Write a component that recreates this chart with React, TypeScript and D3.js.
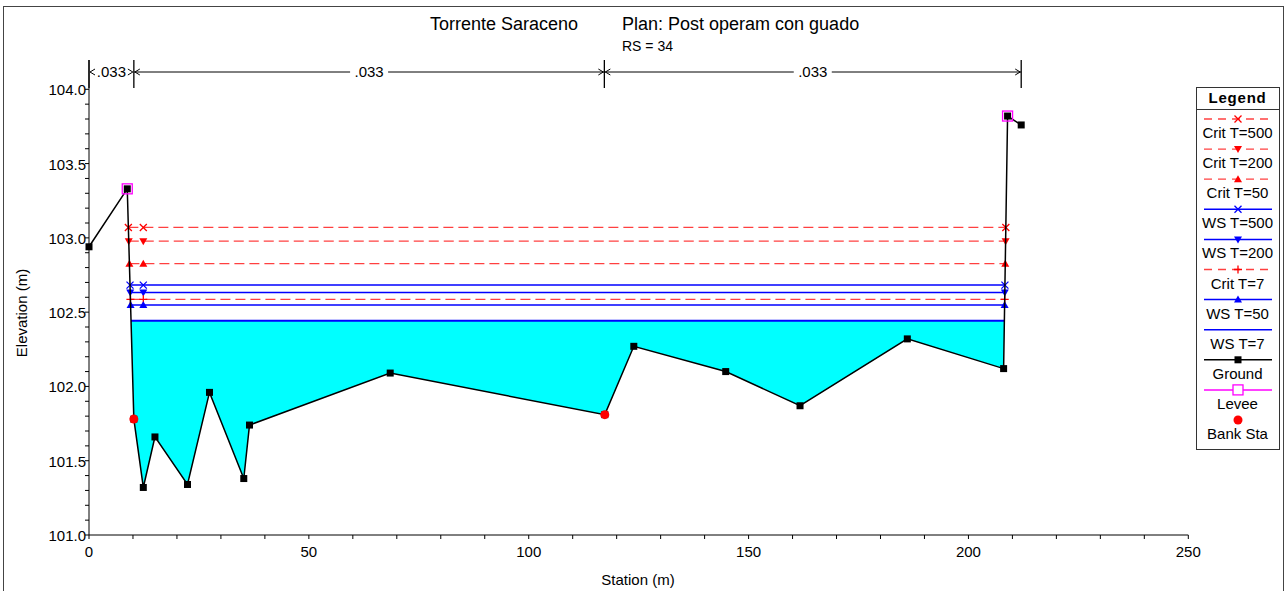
import React from "react";
import * as d3 from "d3";

// ---------------- data ----------------
const groundSta = [0, 8.7, 10.2, 12.35, 15.0, 22.4, 27.4, 35.2, 36.5, 68.5, 117.3, 123.9, 144.8, 161.7, 186.1, 208.0, 208.9, 212.0];
const groundElev = [102.94, 103.33, 101.78, 101.32, 101.66, 101.34, 101.96, 101.38, 101.74, 102.09, 101.81, 102.27, 102.1, 101.87, 102.32, 102.12, 103.82, 103.76];

const leveeSta = [8.7, 208.9];
const leveeElev = [103.33, 103.82];

const bankSta = [10.2, 117.3];
const bankElev = [101.78, 101.81];

const profileNames = ["Crit T=500", "Crit T=200", "Crit T=50", "WS T=500", "WS T=200", "Crit T=7", "WS T=50", "WS T=7"];
const profileElev = [103.07, 102.978, 102.826, 102.682, 102.633, 102.586, 102.548, 102.442];
const profileKind = ["crit", "crit", "crit", "ws", "ws", "crit", "ws", "ws"];
const profileMarker = ["x", "down", "up", "x", "down", "plus", "up", "none"];
const innerMarkerSta = [12.35];

const nBreakSta = [0, 10.2, 117.2, 212.0];
const nValues = [".033", ".033", ".033"];

const xTicks = [0, 50, 100, 150, 200, 250];
const yTicks = [101.0, 101.5, 102.0, 102.5, 103.0, 103.5, 104.0];

const legendNames = [...profileNames, "Ground", "Levee", "Bank Sta"];

// ---------------- helpers ----------------
const FONT = "Liberation Sans, Arial, Helvetica, sans-serif";
const RED = "#ff0000";
const BLUE = "#0000ff";
const MAG = "#ff00ff";

const x = d3.scaleLinear().domain([0, 250]).range([89, 1188.3]);
const y = d3.scaleLinear().domain([101, 104]).range([535, 89.3]);

function leftCrossing(level: number) {
  for (let i = 0; i < groundSta.length - 1; i++) {
    const a = groundElev[i], b = groundElev[i + 1];
    if (a >= level && b < level) {
      const t = (a - level) / (a - b);
      return groundSta[i] + t * (groundSta[i + 1] - groundSta[i]);
    }
  }
  return groundSta[0];
}
function rightCrossing(level: number) {
  for (let i = groundSta.length - 2; i >= 0; i--) {
    const a = groundElev[i], b = groundElev[i + 1];
    if (a < level && b >= level) {
      const t = (level - a) / (b - a);
      return groundSta[i] + t * (groundSta[i + 1] - groundSta[i]);
    }
  }
  return groundSta[groundSta.length - 1];
}

function Marker({ type, cx, cy, color }: { type: string; cx: number; cy: number; color: string }) {
  if (type === "x") {
    const s = 3.5;
    return <path d={`M${cx - s},${cy - s}L${cx + s},${cy + s}M${cx - s},${cy + s}L${cx + s},${cy - s}`} stroke={color} strokeWidth={1.3} />;
  }
  if (type === "plus") {
    const s = 4;
    return <path d={`M${cx - s},${cy}L${cx + s},${cy}M${cx},${cy - s}L${cx},${cy + s}`} stroke={color} strokeWidth={1.3} />;
  }
  if (type === "down") {
    return <path d={`M${cx - 4},${cy - 3}L${cx + 4},${cy - 3}L${cx},${cy + 4}Z`} fill={color} />;
  }
  if (type === "up") {
    return <path d={`M${cx - 4},${cy + 3}L${cx + 4},${cy + 3}L${cx},${cy - 4}Z`} fill={color} />;
  }
  return null;
}

export default function App() {
  const ws7 = profileElev[7];
  const l7 = leftCrossing(ws7);
  const r7 = rightCrossing(ws7);
  const fillPts: [number, number][] = [[l7, ws7]];
  groundSta.forEach((s, i) => {
    if (s > l7 && s < r7) fillPts.push([s, groundElev[i]]);
  });
  fillPts.push([r7, ws7]);
  const area = d3
    .area<[number, number]>()
    .x((d) => x(d[0]))
    .y0((d) => y(d[1]))
    .y1(() => y(ws7));
  const groundLine = d3
    .line<number>()
    .x((_, i) => x(groundSta[i]))
    .y((e) => y(e));

  const xMinor = d3.range(0, 251, 10);
  const yMinor = d3.range(0, 31).map((i) => 101 + i * 0.1);

  const nTop = 60, nBot = 88, nY = 72;

  // legend
  const lgX0 = 1196, lgX1 = 1279, lgY0 = 87, lgY1 = 449;
  const lgCx = (lgX0 + lgX1) / 2;
  const lgStart = 119, lgStep = 30.1;

  return (
    <div style={{ position: "absolute", left: 0, top: 0 }}>
      <svg width={1286} height={591} style={{ display: "block", fontFamily: FONT }}>
        <rect x={0} y={0} width={1286} height={591} fill="#fff" />
        <rect x={3.5} y={6.5} width={1280} height={600} fill="none" stroke="#444" strokeWidth={1} />

        {/* titles */}
        <text x={504} y={30} fontSize={18} textAnchor="middle" fill="#000">Torrente Saraceno</text>
        <text x={622} y={30} fontSize={18} fill="#000">Plan: Post operam con guado</text>
        <text x={622} y={51} fontSize={14} fill="#000">RS = 34</text>

        {/* water fill */}
        <path d={area(fillPts) || ""} fill="#00ffff" />

        {/* profile lines */}
        {profileNames.map((name, i) => {
          const lev = profileElev[i];
          const ls = leftCrossing(lev);
          const rs = rightCrossing(lev);
          const color = profileKind[i] === "crit" ? RED : BLUE;
          const yy = y(lev);
          const markerSta = [ls, ...innerMarkerSta, rs];
          return (
            <g key={name}>
              <line
                x1={x(ls)}
                x2={x(rs)}
                y1={yy}
                y2={yy}
                stroke={color}
                strokeOpacity={profileKind[i] === "crit" ? 0.75 : 1}
                strokeWidth={profileKind[i] === "crit" ? 1.3 : i === 7 ? 2 : 1.5}
                strokeDasharray={profileKind[i] === "crit" ? "10,5" : undefined}
              />
              {profileMarker[i] !== "none" &&
                markerSta.map((s, j) => <Marker key={j} type={profileMarker[i]} cx={x(s)} cy={yy} color={color} />)}
            </g>
          );
        })}

        {/* ground */}
        <path d={groundLine(groundElev) || ""} fill="none" stroke="#000" strokeWidth={1.5} />
        {groundSta.map((s, i) => (
          <rect key={i} x={x(s) - 3.5} y={y(groundElev[i]) - 3.5} width={7} height={7} fill="#000" />
        ))}
        {leveeSta.map((s, i) => (
          <rect key={i} x={x(s) - 5} y={y(leveeElev[i]) - 5} width={10} height={10} fill="none" stroke={MAG} strokeWidth={1.3} />
        ))}
        {bankSta.map((s, i) => (
          <circle key={i} cx={x(s)} cy={y(bankElev[i])} r={4.5} fill={RED} />
        ))}

        {/* axes */}
        <line x1={89} x2={89} y1={nTop} y2={535} stroke="#000" strokeWidth={1} />
        <line x1={89} x2={1188.3} y1={535} y2={535} stroke="#000" strokeWidth={1} />
        {yMinor.map((v, i) => (
          <line key={i} x1={85} x2={89} y1={y(v)} y2={y(v)} stroke="#000" />
        ))}
        {xMinor.map((v, i) => (
          <line key={i} x1={x(v)} x2={x(v)} y1={535} y2={539} stroke="#000" />
        ))}
        {yTicks.map((v) => (
          <text key={v} x={86} y={y(v) + 6} fontSize={15} textAnchor="end" fill="#000">
            {d3.format(".1f")(v)}
          </text>
        ))}
        {xTicks.map((v) => (
          <text key={v} x={x(v)} y={557} fontSize={15} textAnchor="middle" fill="#000">
            {v}
          </text>
        ))}
        <text x={638} y={585} fontSize={15} textAnchor="middle" fill="#000">Station (m)</text>
        <text transform="translate(27,313) rotate(-90)" fontSize={15} textAnchor="middle" fill="#000">Elevation (m)</text>

        {/* manning's n */}
        {nBreakSta.map((s, i) => (
          <line key={i} x1={x(s)} x2={x(s)} y1={nTop} y2={nBot} stroke="#000" strokeWidth={1.3} />
        ))}
        {nValues.map((v, i) => {
          const a = x(nBreakSta[i]);
          const b = x(nBreakSta[i + 1]);
          const m = (a + b) / 2;
          const half = 19;
          return (
            <g key={i}>
              {b - a > 60 && (
                <>
                  <line x1={a} x2={m - half} y1={nY} y2={nY} stroke="#000" />
                  <line x1={m + half} x2={b} y1={nY} y2={nY} stroke="#000" />
                </>
              )}
              <path d={`M${a + 6},${nY - 3}L${a + 1},${nY}L${a + 6},${nY + 3}`} fill="none" stroke="#000" />
              <path d={`M${b - 6},${nY - 3}L${b - 1},${nY}L${b - 6},${nY + 3}`} fill="none" stroke="#000" />
              <text x={m} y={nY + 5} fontSize={15} textAnchor="middle" fill="#000">{v}</text>
            </g>
          );
        })}

        {/* legend */}
        <rect x={lgX0 + 0.5} y={lgY0 + 0.5} width={lgX1 - lgX0} height={lgY1 - lgY0} fill="#fff" stroke="#333" strokeWidth={1} />
        <text x={lgCx} y={103} fontSize={15} fontWeight="bold" textAnchor="middle" fill="#000" letterSpacing={0.8}>Legend</text>
        <line x1={lgX0} x2={lgX1} y1={109.5} y2={109.5} stroke="#333" />
        {legendNames.map((name, i) => {
          const ly = lgStart + i * lgStep;
          let sample: React.ReactNode = null;
          if (i < profileNames.length) {
            const color = profileKind[i] === "crit" ? RED : BLUE;
            sample = (
              <>
                <line x1={1204} x2={1272} y1={ly} y2={ly} stroke={color} strokeOpacity={profileKind[i] === "crit" ? 0.75 : 1} strokeWidth={profileKind[i] === "crit" ? 1.3 : 1.5} strokeDasharray={profileKind[i] === "crit" ? "8,6" : undefined} />
                <Marker type={profileMarker[i]} cx={1238} cy={ly} color={color} />
              </>
            );
          } else if (name === "Ground") {
            sample = (
              <>
                <line x1={1204} x2={1272} y1={ly} y2={ly} stroke="#000" strokeWidth={1.5} />
                <rect x={1234.5} y={ly - 3.5} width={7} height={7} fill="#000" />
              </>
            );
          } else if (name === "Levee") {
            sample = (
              <>
                <line x1={1204} x2={1272} y1={ly} y2={ly} stroke={MAG} strokeWidth={1.5} />
                <rect x={1233} y={ly - 5} width={10} height={10} fill="#fff" stroke={MAG} strokeWidth={1.3} />
              </>
            );
          } else {
            sample = <circle cx={1238} cy={ly} r={4.5} fill={RED} />;
          }
          return (
            <g key={name}>
              {sample}
              <text x={lgCx} y={ly + 19} fontSize={15} textAnchor="middle" fill="#000">{name}</text>
            </g>
          );
        })}
      </svg>
    </div>
  );
}
